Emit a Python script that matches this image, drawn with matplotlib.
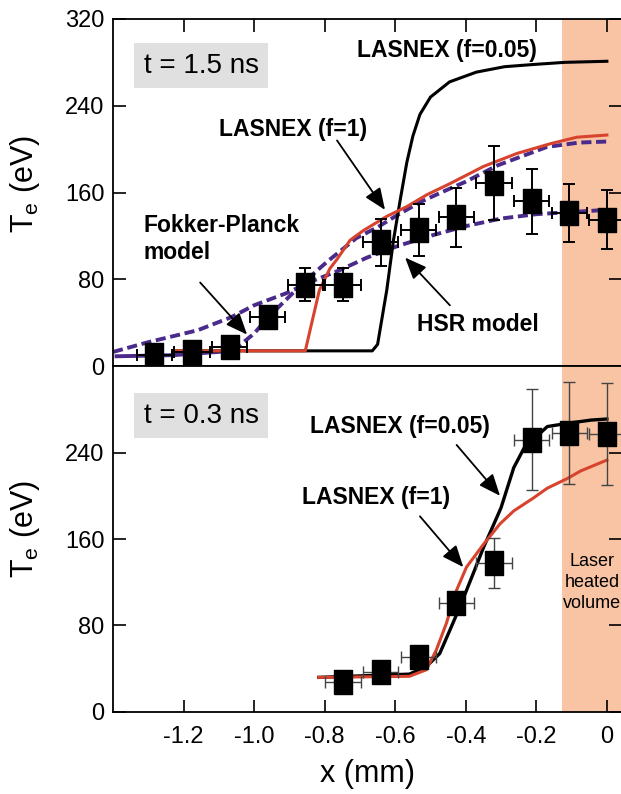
import numpy as np
import matplotlib
matplotlib.use("Agg")
import matplotlib.pyplot as plt
from matplotlib.ticker import FixedLocator

plt.rcParams['font.family'] = 'Liberation Sans'

# ---- t = 1.5 ns panel ----
data15_x = [-1.283, -1.176, -1.069, -0.962, -0.855, -0.748, -0.641, -0.534, -0.427, -0.320, -0.213, -0.107, 0.0]
data15_y = [10, 13, 18, 45, 75, 75, 114, 125, 137, 169, 152, 141, 135]
data15_yerr = [4, 4, 5, 8, 15, 15, 22, 24, 27, 34, 30, 27, 27]
data15_xerr = [0.05] * 13

las005_15_x = [-1.22, -0.665, -0.65, -0.624, -0.605, -0.586, -0.567, -0.55, -0.53, -0.50, -0.446, -0.37, -0.29, -0.21, -0.12, 0.0]
las005_15_y = [14, 14, 20, 70, 116, 153, 188, 212, 232, 248, 262, 271, 276, 278, 280, 281]

las1_15_x = [-1.22, -0.855, -0.835, -0.815, -0.785, -0.766, -0.728, -0.69, -0.624, -0.567, -0.51, -0.446, -0.35, -0.255, -0.16, -0.085, 0.0]
las1_15_y = [14, 14, 42, 70, 90, 98, 116, 125, 138, 147, 158, 168, 184, 196, 205, 211, 213]

fp_x = [-1.39, -1.23, -1.06, -1.0, -0.96, -0.91, -0.85, -0.79, -0.71, -0.65, -0.60, -0.53, -0.47, -0.40, -0.31, -0.17, -0.08, 0.0]
fp_y = [9, 10, 14, 30, 45, 61, 80, 97, 118, 128, 138, 151, 160, 170, 185, 202, 206, 207]

hsr_x = [-1.40, -1.30, -1.16, -1.065, -1.0, -0.91, -0.83, -0.76, -0.68, -0.59, -0.49, -0.40, -0.30, -0.20, -0.10, 0.0]
hsr_y = [13, 22, 33, 45, 56, 67, 79, 88, 100, 111, 121, 129, 136, 140, 142, 144]

# ---- t = 0.3 ns panel ----
data03_x = [-0.748, -0.641, -0.534, -0.427, -0.320, -0.213, -0.107, 0.0]
data03_y = [28, 37, 51, 101, 138, 252, 258, 257]
data03_yerr = [4, 4, 6, 10, 23, 47, 47, 47]
data03_xerr = [0.05] * 8

las005_03_x = [-0.817, -0.56, -0.512, -0.474, -0.446, -0.417, -0.379, -0.35, -0.312, -0.30, -0.264, -0.235, -0.169, -0.112, -0.045, 0.0]
las005_03_y = [32, 35, 42, 54, 75, 97, 128, 152, 180, 189, 226, 244, 264, 267, 270, 271]

las1_03_x = [-0.817, -0.56, -0.512, -0.484, -0.455, -0.427, -0.398, -0.35, -0.303, -0.264, -0.208, -0.169, -0.112, -0.074, 0.0]
las1_03_y = [32, 33, 39, 57, 82, 112, 134, 155, 174, 186, 198, 207, 216, 223, 233]

laser_start = -0.127
red = '#d8432e'
purple = '#4a2a8a'
orange = '#f8c4a4'
rect = [(-0.37, -0.5), (0.37, -0.5), (0.37, 0.5), (-0.37, 0.5), (-0.37, -0.5)]

fig = plt.figure(figsize=(6.21, 7.94), dpi=100)
ax1 = fig.add_axes([0.182, 0.539, 0.818, 0.4371])
ax2 = fig.add_axes([0.182, 0.1033, 0.818, 0.4357])

for ax in (ax1, ax2):
    ax.set_xlim(-1.4, 0.04)
    ax.set_ylim(0, 320)
    ax.axvspan(laser_start, 0.1, color=orange, lw=0, zorder=0)
    ax.xaxis.set_major_locator(FixedLocator([-1.2, -1.0, -0.8, -0.6, -0.4, -0.2, 0.0]))
    ax.tick_params(direction='in', length=9, width=1.2, labelsize=17, right=True)
    ax.tick_params(axis='y', pad=6)
    ax.spines['right'].set_visible(False)
    for s in ('left', 'top', 'bottom'):
        ax.spines[s].set_linewidth(1.3)

ax1.set_yticks([0, 80, 160, 240, 320])
ax1.tick_params(top=True, bottom=False, labelbottom=False)
ax2.set_yticks([0, 80, 160, 240])
ax2.tick_params(top=False, bottom=True, pad=10, axis='x')
ax2.set_xticklabels(['-1.2', '-1.0', '-0.8', '-0.6', '-0.4', '-0.2', '0'])

# top panel curves
k = 3
dash = (0, (2.6, 1.2))
ax1.plot(fp_x[:k], fp_y[:k], color=purple, lw=2.8, zorder=2)
ax1.plot(fp_x[k - 1:], fp_y[k - 1:], color=purple, lw=2.8, ls=dash, zorder=2)
ax1.plot(hsr_x, hsr_y, color=purple, lw=2.8, ls=dash, zorder=2)
ax1.plot(las005_15_x, las005_15_y, color='black', lw=2.2, zorder=3)
ax1.plot(las1_15_x, las1_15_y, color=red, lw=2.2, zorder=4)
ax1.errorbar(data15_x, data15_y, yerr=data15_yerr, xerr=data15_xerr, fmt='none',
             ecolor='black', elinewidth=1.4, capsize=4, capthick=1.4, zorder=5)
ax1.plot(data15_x, data15_y, ls='none', marker=rect, ms=17, color='black', zorder=6)

# bottom panel curves
ax2.plot(las005_03_x, las005_03_y, color='black', lw=2.4, zorder=3)
ax2.plot(las1_03_x, las1_03_y, color=red, lw=2.2, zorder=4)
ax2.errorbar(data03_x, data03_y, yerr=data03_yerr, xerr=data03_xerr, fmt='none',
             ecolor='#444444', elinewidth=1.0, capsize=4, capthick=1.0, zorder=5)
ax2.plot(data03_x, data03_y, ls='none', marker=rect, ms=17, color='black', zorder=6)

box = dict(boxstyle='square,pad=0.35', fc='#e0e0e0', ec='none')
ax1.text(-1.150, 277, 't = 1.5 ns', fontsize=20, ha='center', va='center', bbox=box)
ax2.text(-1.150, 274, 't = 0.3 ns', fontsize=20, ha='center', va='center', bbox=box)

arr = dict(arrowstyle='-|>,head_length=0.6,head_width=0.25', color='black', lw=1.3,
           mutation_scale=22, shrinkA=0, shrinkB=0)
bold = dict(fontsize=16.5, fontweight='bold', ha='center', va='center')

ax1.text(-0.453, 291, 'LASNEX (f=0.05)', **bold)
ax1.text(-0.89, 218, 'LASNEX (f=1)', **bold)
ax1.annotate('', xy=(-0.629, 144), xytext=(-0.765, 208), arrowprops=arr)
ax1.text(-1.314, 117, 'Fokker-Planck\nmodel', fontsize=16.5, fontweight='bold', ha='left', va='center')
ax1.annotate('', xy=(-1.02, 29), xytext=(-1.153, 77), arrowprops=arr)
ax1.text(-0.365, 38, 'HSR model', **bold)
ax1.annotate('', xy=(-0.572, 100), xytext=(-0.445, 56), arrowprops=arr)

ax2.text(-0.586, 264, 'LASNEX (f=0.05)', **bold)
ax2.annotate('', xy=(-0.303, 200), xytext=(-0.426, 247), arrowprops=arr)
ax2.text(-0.654, 198, 'LASNEX (f=1)', **bold)
ax2.annotate('', xy=(-0.407, 134), xytext=(-0.53, 181), arrowprops=arr)
ax2.text(-0.042, 120, 'Laser\nheated\nvolume', fontsize=13, ha='center', va='center',
         linespacing=1.3)

ylab = r'$\mathregular{T_e}$ (eV)'
ax1.set_ylabel(ylab, fontsize=22)
ax2.set_ylabel(ylab, fontsize=22)
ax1.yaxis.set_label_coords(-0.14, 0.525)
ax2.yaxis.set_label_coords(-0.14, 0.53)
ax2.set_xlabel('x (mm)', fontsize=22, labelpad=8)

fig.savefig('out.png', dpi=100)
